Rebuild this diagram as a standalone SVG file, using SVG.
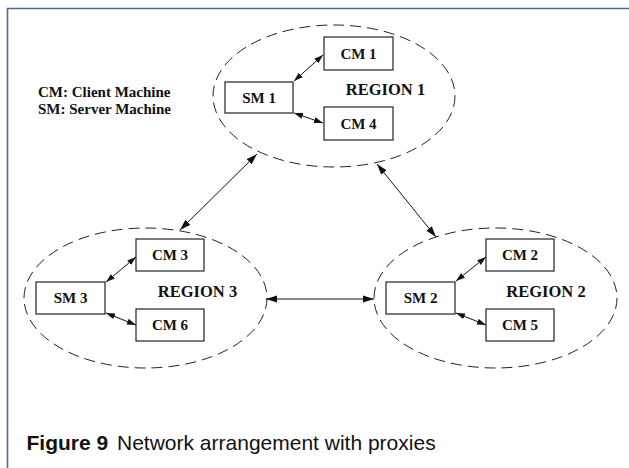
<svg xmlns="http://www.w3.org/2000/svg" width="629" height="468" viewBox="0 0 629 468">
  <style>
    .region { fill: none; stroke: #222; stroke-width: 1; stroke-dasharray: 11 6; }
    .box { fill: #fff; stroke: #222; stroke-width: 1.2; }
    .lbl { font-family: "Liberation Serif", "Times New Roman", serif; font-weight: bold; font-size: 15px; fill: #111; text-anchor: middle; }
    .rlbl { font-family: "Liberation Serif", "Times New Roman", serif; font-weight: bold; font-size: 16.5px; fill: #111; text-anchor: middle; }
    .legend { font-family: "Liberation Serif", "Times New Roman", serif; font-weight: bold; font-size: 15px; fill: #111; }
    .big { stroke: #111; stroke-width: 1; fill: none; marker-start: url(#ahBig); marker-end: url(#ahBig); }
    .small { stroke: #111; stroke-width: 1; fill: none; marker-start: url(#ahSmall); marker-end: url(#ahSmall); }
    .cap { font-family: "Liberation Sans", Arial, sans-serif; font-size: 21px; fill: #111; }
  </style>
  <defs>
    <marker id="ahBig" markerUnits="userSpaceOnUse" markerWidth="11" markerHeight="8" refX="11" refY="4" orient="auto-start-reverse">
      <path d="M0,0.5 L11,4 L0,7.5 z" fill="#111"/>
    </marker>
    <marker id="ahSmall" markerUnits="userSpaceOnUse" markerWidth="9" markerHeight="7" refX="9" refY="3.5" orient="auto-start-reverse">
      <path d="M0,0.5 L9,3.5 L0,6.5 z" fill="#111"/>
    </marker>
  </defs>
  <rect width="629" height="468" fill="#fff"/>
  <path d="M7.5,468 V8.5 H629" fill="none" stroke="#4f6a92" stroke-width="1.6"/>

  <g id="legend">
    <text class="legend" x="38" y="97">CM: Client Machine</text>
    <text class="legend" x="38" y="114">SM: Server Machine</text>
  </g>

  <g id="region1">
    <ellipse class="region" cx="334" cy="96" rx="121" ry="71"/>
    <text class="rlbl" x="385.5" y="95">REGION 1</text>
  </g>
  <g id="region2">
    <ellipse class="region" cx="495.5" cy="298" rx="121.5" ry="70"/>
    <text class="rlbl" x="546" y="297">REGION 2</text>
  </g>
  <g id="region3">
    <ellipse class="region" cx="145.5" cy="298" rx="121.5" ry="70"/>
    <text class="rlbl" x="197.5" y="297">REGION 3</text>
  </g>

  <g id="sm1"><rect class="box" x="225" y="82" width="68" height="31"/><text class="lbl" x="259" y="102.5">SM 1</text></g>
  <g id="cm1"><rect class="box" x="324" y="37" width="69" height="33"/><text class="lbl" x="358.5" y="58.5">CM 1</text></g>
  <g id="cm4"><rect class="box" x="324" y="107" width="69" height="33"/><text class="lbl" x="358.5" y="128.5">CM 4</text></g>

  <g id="sm3"><rect class="box" x="36" y="282" width="69" height="32"/><text class="lbl" x="70.5" y="303">SM 3</text></g>
  <g id="cm3"><rect class="box" x="136" y="239" width="68" height="32"/><text class="lbl" x="170" y="260">CM 3</text></g>
  <g id="cm6"><rect class="box" x="136" y="309" width="68" height="32"/><text class="lbl" x="170" y="330">CM 6</text></g>

  <g id="sm2"><rect class="box" x="386" y="282" width="69" height="32"/><text class="lbl" x="420.5" y="303">SM 2</text></g>
  <g id="cm2"><rect class="box" x="486" y="239" width="68" height="32"/><text class="lbl" x="520" y="260">CM 2</text></g>
  <g id="cm5"><rect class="box" x="486" y="309" width="68" height="32"/><text class="lbl" x="520" y="330">CM 5</text></g>

  <g id="connectors">
    <line class="big" x1="257" y1="154" x2="180" y2="230"/>
    <line class="big" x1="377" y1="164" x2="436" y2="237"/>
    <line class="big" x1="266" y1="299" x2="374" y2="299"/>
    <line class="small" x1="294" y1="81" x2="323" y2="55"/>
    <line class="small" x1="294" y1="113" x2="323" y2="123"/>
    <line class="small" x1="106" y1="282" x2="136" y2="257"/>
    <line class="small" x1="106" y1="313" x2="136" y2="325"/>
    <line class="small" x1="456" y1="281" x2="486" y2="257"/>
    <line class="small" x1="456" y1="313" x2="486" y2="325"/>
  </g>

  <g id="caption">
    <text class="cap" x="26.5" y="450" font-weight="bold" font-size="20px">Figure 9</text>
    <text class="cap" x="117" y="450">Network arrangement with proxies</text>
  </g>
</svg>
